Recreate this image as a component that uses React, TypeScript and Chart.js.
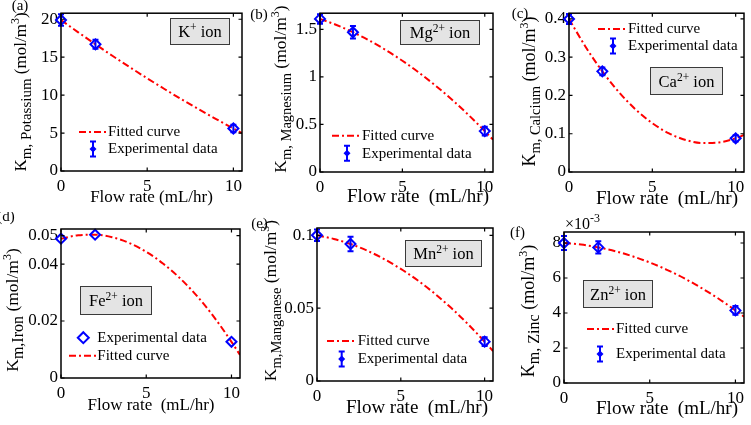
import React, { useEffect, useRef } from "react";
import { Chart, registerables } from "chart.js";
Chart.register(...registerables);

const FONT = '"Liberation Serif", "Times New Roman", Times, serif';
const BLUE = "#0000ff";
const RED = "#ff0000";

// ---------- data ----------
const flowRates = [0, 2, 10];
const curveX = [0, 1, 2, 3, 4, 5, 6, 7, 8, 9, 10, 10.5];
const xTicks = [0, 5, 10];

const potassiumY = [19.9, 16.7, 5.6];
const potassiumErr = [0.75, 0.6, 0.5];
const potassiumFit = [19.9, 18.28, 16.7, 15.16, 13.67, 12.22, 10.81, 9.44, 8.12, 6.84, 5.6, 5.0];
const potassiumTicks = [0, 5, 10, 15, 20];

const magnesiumY = [1.61, 1.47, 0.43];
const magnesiumErr = [0.05, 0.065, 0.045];
const magnesiumFit = [1.61, 1.546, 1.47, 1.382, 1.282, 1.17, 1.046, 0.91, 0.762, 0.602, 0.43, 0.34];
const magnesiumTicks = [0, 0.5, 1, 1.5];

const calciumY = [0.4, 0.263, 0.088];
const calciumErr = [0.013, 0.01, 0.008];
const calciumFit = [0.4, 0.3268, 0.263, 0.2085, 0.1633, 0.1275, 0.1009, 0.0837, 0.0758, 0.0773, 0.088, 0.0969];
const calciumTicks = [0, 0.1, 0.2, 0.3, 0.4];

const ironY = [0.0489, 0.0503, 0.0127];
const ironFit = [0.0489, 0.0501, 0.0503, 0.0494, 0.0474, 0.0443, 0.0401, 0.0349, 0.0286, 0.0212, 0.0127, 0.0081];
const ironTicks = [0, 0.02, 0.04, 0.05];

const manganeseY = [0.1, 0.094, 0.027];
const manganeseErr = [0.004, 0.005, 0.003];
const manganeseFit = [0.1, 0.0975, 0.094, 0.0894, 0.0837, 0.0769, 0.0691, 0.0602, 0.0502, 0.0391, 0.027, 0.0205];
const manganeseTicks = [0, 0.05, 0.1];

const zincY = [0.008, 0.00775, 0.00415];
const zincErr = [0.0004, 0.00035, 0.00025];
const zincFit = [0.008, 0.00791, 0.00775, 0.00753, 0.00724, 0.00689, 0.00647, 0.00599, 0.00544, 0.00483, 0.00415, 0.00379];
const zincTicks = [0, 0.002, 0.004, 0.006, 0.008];

const fittedLabel = "Fitted curve";
const expLabel = "Experimental data";

// ---------- layout ----------
type Seg = { t: string; s: number; dy?: number };
type LegendRow = { kind: "line" | "err" | "diamond"; y: number; x0: number; x1: number; tx: number; text: string };
interface Panel {
  id: string;
  box: [number, number, number, number];
  area: [number, number, number, number];
  ymax: number;
  yTicks: number[];
  mult: number;
  y: number[];
  err: number[] | null;
  fit: number[];
  yTitle: { x: number; y: number; segs: Seg[] };
  xTitle: { x: number; y: number; size: number; text: string };
  label: { x: number; y: number; text: string };
  ion: { box: [number, number, number, number]; segs: Seg[] };
  legend: LegendRow[];
  exp?: { x: number; y: number };
}

const yT = (name: string, m: number, s: number): Seg[] => [
  { t: "K", s: m },
  { t: name, s, dy: 5 },
  { t: " (mol/m", s: m },
  { t: "3", s: 12, dy: -7 },
  { t: ")", s: m },
];
const ionT = (el: string, ch: string): Seg[] => [
  { t: el, s: 16.5 },
  { t: ch, s: 11.5, dy: -6 },
  { t: " ion", s: 16.5 },
];

const panels: Panel[] = [
  {
    id: "a", box: [0, 0, 250, 212], area: [61, 12, 242, 171], ymax: 20.8, yTicks: potassiumTicks, mult: 1,
    y: potassiumY, err: potassiumErr, fit: potassiumFit,
    yTitle: { x: 26, y: 92, segs: yT("m, Potassium", 17, 15) },
    xTitle: { x: 151.5, y: 202, size: 17, text: "Flow rate (mL/hr)" },
    label: { x: 20, y: 10, text: "(a)" },
    ion: { box: [170, 18, 60, 27], segs: ionT("K", "+") },
    legend: [
      { kind: "line", y: 132, x0: 79, x1: 107, tx: 108, text: fittedLabel },
      { kind: "err", y: 149, x0: 93, x1: 93, tx: 108, text: expLabel },
    ],
  },
  {
    id: "b", box: [250, 0, 250, 212], area: [320, 10, 497, 172], ymax: 1.67, yTicks: magnesiumTicks, mult: 1,
    y: magnesiumY, err: magnesiumErr, fit: magnesiumFit,
    yTitle: { x: 286, y: 89, segs: yT("m, Magnesium", 17.5, 14.5) },
    xTitle: { x: 418, y: 202, size: 19, text: "Flow rate  (mL/hr)" },
    label: { x: 259, y: 18.5, text: "(b)" },
    ion: { box: [400, 20, 80, 25], segs: ionT("Mg", "2+") },
    legend: [
      { kind: "line", y: 135.7, x0: 332, x1: 362, tx: 362, text: fittedLabel },
      { kind: "err", y: 153.3, x0: 347, x1: 347, tx: 362, text: expLabel },
    ],
  },
  {
    id: "c", box: [500, 0, 251, 212], area: [569, 10, 748, 172], ymax: 0.415, yTicks: calciumTicks, mult: 1,
    y: calciumY, err: calciumErr, fit: calciumFit,
    yTitle: { x: 535, y: 91.5, segs: yT("m, Calcium", 18, 14.5) },
    xTitle: { x: 667, y: 204, size: 19, text: "Flow rate  (mL/hr)" },
    label: { x: 520, y: 17.5, text: "(c)" },
    ion: { box: [650, 67, 73, 28], segs: ionT("Ca", "2+") },
    legend: [
      { kind: "line", y: 29, x0: 598, x1: 628, tx: 628, text: fittedLabel },
      { kind: "err", y: 46, x0: 613, x1: 613, tx: 628, text: expLabel },
    ],
  },
  {
    id: "d", box: [0, 212, 250, 213], area: [61, 229, 240, 378], ymax: 0.0523, yTicks: ironTicks, mult: 1,
    y: ironY, err: null, fit: ironFit,
    yTitle: { x: 18, y: 310, segs: yT("m,Iron", 17.5, 16) },
    xTitle: { x: 151, y: 409.5, size: 17, text: "Flow rate  (mL/hr)" },
    label: { x: 6, y: 221, text: "(d)" },
    ion: { box: [80, 286, 72, 29], segs: ionT("Fe", "2+") },
    legend: [
      { kind: "diamond", y: 337.7, x0: 83.3, x1: 83.3, tx: 97.3, text: expLabel },
      { kind: "line", y: 355.7, x0: 69, x1: 97, tx: 97.3, text: fittedLabel },
    ],
  },
  {
    id: "e", box: [250, 212, 250, 213], area: [317, 228, 498, 381], ymax: 0.105, yTicks: manganeseTicks, mult: 1,
    y: manganeseY, err: manganeseErr, fit: manganeseFit,
    yTitle: { x: 276, y: 300.5, segs: yT("m,Manganese", 17.5, 14.5) },
    xTitle: { x: 417, y: 413, size: 19, text: "Flow rate  (mL/hr)" },
    label: { x: 259.5, y: 227.5, text: "(e)" },
    ion: { box: [405, 240, 77, 27], segs: ionT("Mn", "2+") },
    legend: [
      { kind: "line", y: 341, x0: 327, x1: 357, tx: 357.7, text: fittedLabel },
      { kind: "err", y: 359, x0: 341.7, x1: 341.7, tx: 357.7, text: expLabel },
    ],
  },
  {
    id: "f", box: [500, 212, 251, 213], area: [564, 232, 750, 383], ymax: 0.00863, yTicks: zincTicks, mult: 1000,
    y: zincY, err: zincErr, fit: zincFit,
    yTitle: { x: 534, y: 311, segs: yT("m, Zinc", 18, 16) },
    xTitle: { x: 667, y: 414, size: 19, text: "Flow rate  (mL/hr)" },
    label: { x: 517.5, y: 237, text: "(f)" },
    ion: { box: [583, 280, 70, 28], segs: ionT("Zn", "2+") },
    legend: [
      { kind: "line", y: 329, x0: 587, x1: 615, tx: 616, text: fittedLabel },
      { kind: "err", y: 354, x0: 600, x1: 600, tx: 616, text: expLabel },
    ],
    exp: { x: 565, y: 228.5 },
  },
];

function drawRich(ctx: CanvasRenderingContext2D, segs: Seg[], x: number, y: number, align: "center" | "left") {
  let w = 0;
  for (const g of segs) {
    ctx.font = `${g.s}px ${FONT}`;
    w += ctx.measureText(g.t).width;
  }
  let cx = align === "center" ? x - w / 2 : x;
  ctx.textAlign = "left";
  ctx.textBaseline = "alphabetic";
  for (const g of segs) {
    ctx.font = `${g.s}px ${FONT}`;
    ctx.fillText(g.t, cx, y + (g.dy || 0));
    cx += ctx.measureText(g.t).width;
  }
}

function diamond(ctx: CanvasRenderingContext2D, x: number, y: number, r: number) {
  ctx.beginPath();
  ctx.moveTo(x, y - r);
  ctx.lineTo(x + r, y);
  ctx.lineTo(x, y + r);
  ctx.lineTo(x - r, y);
  ctx.closePath();
}

function makeDecor(p: Panel) {
  const ox = p.box[0];
  const oy = p.box[1];
  return {
    id: "decor" + p.id,
    beforeDatasetDraw(chart: any, args: any) {
      if (args.index !== 0 || !p.err) return;
      const ctx: CanvasRenderingContext2D = chart.ctx;
      const xs = chart.scales.x;
      const ys = chart.scales.y;
      ctx.save();
      ctx.strokeStyle = BLUE;
      ctx.lineWidth = 2;
      ctx.beginPath();
      flowRates.forEach((xv, i) => {
        const px = xs.getPixelForValue(xv);
        const y1 = ys.getPixelForValue(p.y[i] + p.err![i]);
        const y2 = ys.getPixelForValue(p.y[i] - p.err![i]);
        ctx.moveTo(px, y1);
        ctx.lineTo(px, y2);
        ctx.moveTo(px - 3, y1);
        ctx.lineTo(px + 3, y1);
        ctx.moveTo(px - 3, y2);
        ctx.lineTo(px + 3, y2);
      });
      ctx.stroke();
      ctx.restore();
    },
    afterDraw(chart: any) {
      const ctx: CanvasRenderingContext2D = chart.ctx;
      const { left, top, right, bottom } = chart.chartArea;
      const xs = chart.scales.x;
      const ys = chart.scales.y;
      const TL = 3.5;
      ctx.save();
      ctx.strokeStyle = "#000";
      ctx.lineWidth = 1.5;
      ctx.strokeRect(left, top, right - left, bottom - top);
      ctx.lineWidth = 1.2;
      ctx.beginPath();
      for (const t of xs.ticks) {
        const px = xs.getPixelForValue(t.value);
        ctx.moveTo(px, bottom);
        ctx.lineTo(px, bottom - TL);
        ctx.moveTo(px, top);
        ctx.lineTo(px, top + TL);
      }
      for (const t of ys.ticks) {
        const py = ys.getPixelForValue(t.value);
        ctx.moveTo(left, py);
        ctx.lineTo(left + TL, py);
        ctx.moveTo(right, py);
        ctx.lineTo(right - TL, py);
      }
      ctx.stroke();

      ctx.fillStyle = "#000";
      // x title
      ctx.font = `${p.xTitle.size}px ${FONT}`;
      ctx.textAlign = "center";
      ctx.textBaseline = "alphabetic";
      ctx.fillText(p.xTitle.text, p.xTitle.x - ox, p.xTitle.y - oy);
      // y title
      ctx.save();
      ctx.translate(p.yTitle.x - ox, p.yTitle.y - oy);
      ctx.rotate(-Math.PI / 2);
      drawRich(ctx, p.yTitle.segs, 0, 0, "center");
      ctx.restore();
      // panel label
      ctx.font = `15px ${FONT}`;
      ctx.textAlign = "center";
      ctx.fillText(p.label.text, p.label.x - ox, p.label.y - oy);
      // exponent
      if (p.exp) {
        drawRich(ctx, [{ t: "\u00d710", s: 16 }, { t: "-3", s: 12, dy: -7 }], p.exp.x - ox, p.exp.y - oy, "left");
      }
      // ion box
      const [bx, by, bw, bh] = p.ion.box;
      ctx.fillStyle = "#e4e4e4";
      ctx.fillRect(bx - ox, by - oy, bw, bh);
      ctx.strokeStyle = "#3a3a3a";
      ctx.lineWidth = 1;
      ctx.strokeRect(bx - ox + 0.5, by - oy + 0.5, bw - 1, bh - 1);
      ctx.fillStyle = "#000";
      drawRich(ctx, p.ion.segs, bx - ox + bw / 2, by - oy + bh / 2 + 5.5, "center");
      // legend
      for (const r of p.legend) {
        const y = r.y - oy;
        if (r.kind === "line") {
          ctx.save();
          ctx.strokeStyle = RED;
          ctx.lineWidth = 2;
          ctx.setLineDash([7, 3, 2, 3]);
          ctx.beginPath();
          ctx.moveTo(r.x0 - ox, y);
          ctx.lineTo(r.x1 - ox, y);
          ctx.stroke();
          ctx.restore();
        } else if (r.kind === "err") {
          const cx = r.x0 - ox;
          ctx.save();
          ctx.strokeStyle = BLUE;
          ctx.fillStyle = BLUE;
          ctx.lineWidth = 2;
          ctx.beginPath();
          ctx.moveTo(cx, y - 7.5);
          ctx.lineTo(cx, y + 7.5);
          ctx.moveTo(cx - 3, y - 7.5);
          ctx.lineTo(cx + 3, y - 7.5);
          ctx.moveTo(cx - 3, y + 7.5);
          ctx.lineTo(cx + 3, y + 7.5);
          ctx.stroke();
          diamond(ctx, cx, y, 3.5);
          ctx.fill();
          ctx.restore();
        } else {
          ctx.save();
          ctx.strokeStyle = BLUE;
          ctx.lineWidth = 2;
          diamond(ctx, r.x0 - ox, y, 5.5);
          ctx.stroke();
          ctx.restore();
        }
        ctx.fillStyle = "#000";
        ctx.font = `15px ${FONT}`;
        ctx.textAlign = "left";
        ctx.textBaseline = "middle";
        ctx.fillText(r.text, r.tx - ox, y + 0.5);
      }
      ctx.restore();
    },
  };
}

function makeConfig(p: Panel): any {
  const L = p.area[0] - p.box[0];
  const T = p.area[1] - p.box[1];
  const R = p.box[0] + p.box[2] - p.area[2];
  const B = p.box[1] + p.box[3] - p.area[3];
  const tickFont = { family: FONT, size: 17 };
  return {
    type: "line",
    data: {
      datasets: [
        {
          label: expLabel,
          data: flowRates.map((x, i) => ({ x, y: p.y[i] })),
          showLine: false,
          pointStyle: "rectRot",
          pointRadius: 5,
          pointBorderWidth: 2,
          pointBorderColor: BLUE,
          pointBackgroundColor: "rgba(0,0,0,0)",
          clip: false,
        },
        {
          label: fittedLabel,
          data: curveX.map((x, i) => ({ x, y: p.fit[i] })),
          borderColor: RED,
          borderWidth: 2,
          borderDash: [7, 3, 2, 3],
          pointRadius: 0,
          cubicInterpolationMode: "monotone",
          fill: false,
        },
      ],
    },
    options: {
      animation: false,
      responsive: false,
      maintainAspectRatio: false,
      events: [],
      layout: { padding: { left: 0, top: T, right: R, bottom: 0 } },
      plugins: { legend: { display: false }, tooltip: { enabled: false }, title: { display: false } },
      scales: {
        x: {
          type: "linear",
          min: 0,
          max: 10.5,
          afterBuildTicks: (s: any) => {
            s.ticks = xTicks.map((v) => ({ value: v }));
          },
          afterFit: (s: any) => {
            s.height = B;
          },
          grid: { display: false, drawTicks: false },
          border: { display: false },
          ticks: { font: tickFont, color: "#000", padding: 5, autoSkip: false, maxRotation: 0, callback: (v: number) => String(v) },
        },
        y: {
          type: "linear",
          min: 0,
          max: p.ymax,
          afterBuildTicks: (s: any) => {
            s.ticks = p.yTicks.map((v) => ({ value: v }));
          },
          afterFit: (s: any) => {
            s.width = L;
          },
          grid: { display: false, drawTicks: false },
          border: { display: false },
          ticks: {
            font: tickFont,
            color: "#000",
            padding: 3,
            autoSkip: false,
            callback: (v: number) => String(Math.round(v * p.mult * 10000) / 10000),
          },
        },
      },
    },
    plugins: [makeDecor(p)],
  };
}

function PanelChart({ p }: { p: Panel }) {
  const ref = useRef<HTMLCanvasElement | null>(null);
  useEffect(() => {
    if (!ref.current) return;
    const chart = new Chart(ref.current, makeConfig(p));
    return () => chart.destroy();
  }, [p]);
  return (
    <canvas
      ref={ref}
      width={p.box[2]}
      height={p.box[3]}
      style={{ position: "absolute", left: p.box[0], top: p.box[1], width: p.box[2], height: p.box[3] }}
    />
  );
}

export default function App() {
  return (
    <div style={{ position: "fixed", left: 0, top: 0, width: 751, height: 425, background: "#fff", overflow: "hidden" }}>
      {panels.map((p) => (
        <PanelChart key={p.id} p={p} />
      ))}
    </div>
  );
}
